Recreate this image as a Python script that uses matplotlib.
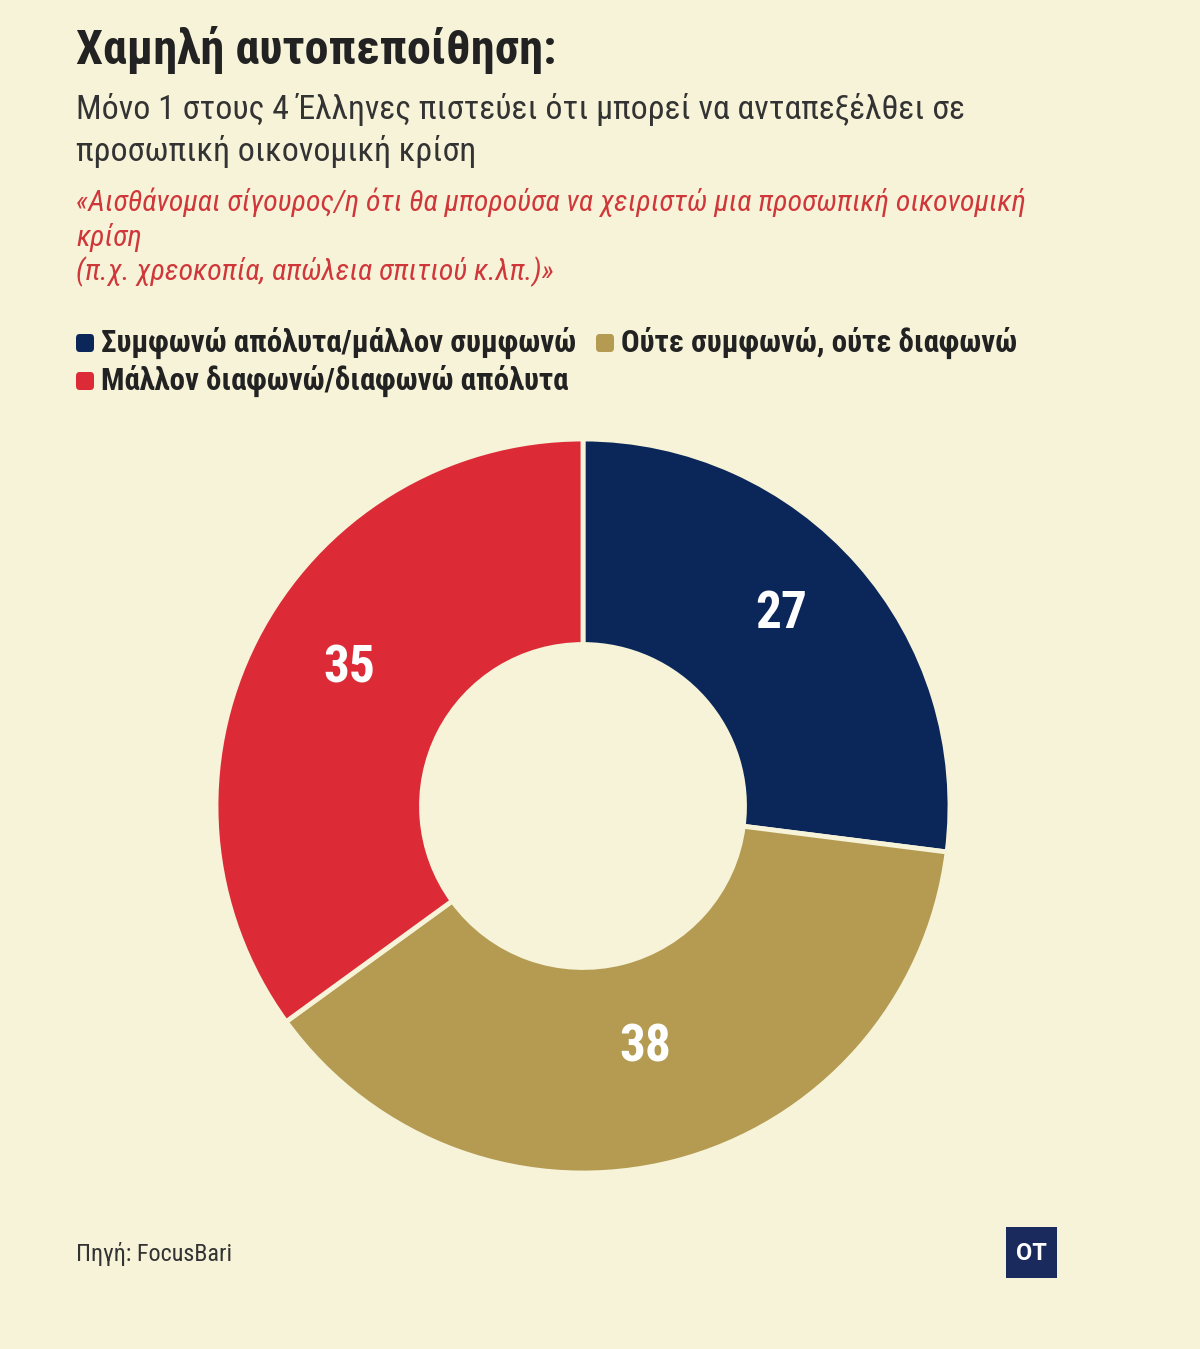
import numpy as np
import matplotlib
matplotlib.use("Agg")
import matplotlib.pyplot as plt
from matplotlib import font_manager
from matplotlib.patches import FancyBboxPatch

categories = ["Συμφωνώ απόλυτα/μάλλον συμφωνώ",
              "Ούτε συμφωνώ, ούτε διαφωνώ",
              "Μάλλον διαφωνώ/διαφωνώ απόλυτα"]
values = [27, 38, 35]
colors = ["#0B2659", "#B49B51", "#DC2B36"]

title = "Χαμηλή αυτοπεποίθηση:"
subtitle = "Μόνο 1 στους 4 Έλληνες πιστεύει ότι μπορεί να ανταπεξέλθει σε\nπροσωπική οικονομική κρίση"
quote_lines = ["«Αισθάνομαι σίγουρος/η ότι θα μπορούσα να χειριστώ μια προσωπική οικονομική",
               "κρίση",
               "(π.χ. χρεοκοπία, απώλεια σπιτιού κ.λπ.)»"]
source = "Πηγή: FocusBari"

BG = "#F6F3D8"
W, H = 1200, 1349

names = {f.name for f in font_manager.fontManager.ttflist}
cond = None
for n in ["Roboto Condensed", "Liberation Sans Narrow", "Open Sans Condensed"]:
    if n in names:
        cond = n
        break
if cond is None:
    cond = "Roboto"
FAM = [cond, "Roboto", "DejaVu Sans"]

fig = plt.figure(figsize=(W / 100, H / 100), dpi=100, facecolor=BG)

def fx(x):
    return x / W

def fy(y):
    return 1 - y / H

# Title & subtitle
fig.text(fx(76), fy(50), title, family=FAM, fontweight="bold", fontsize=34.7,
         color="#222222", va="center", ha="left")
fig.text(fx(76), fy(110), subtitle.split("\n")[0], family=FAM, fontsize=24.4,
         color="#333333", va="center", ha="left")
fig.text(fx(76), fy(152), subtitle.split("\n")[1], family=FAM, fontsize=24.4,
         color="#333333", va="center", ha="left")
for i, ln in enumerate(quote_lines):
    fig.text(fx(76), fy(202 + 35 * i), ln, family=FAM, fontsize=21.4, style="italic",
             color="#D0373A", va="center", ha="left")

# Legend
leg_pos = [(76, 343), (596, 343), (76, 381)]
for (x, y), lab, c in zip(leg_pos, categories, colors):
    sq = FancyBboxPatch((fx(x), fy(y) - 9 / H), 18 / W, 18 / H,
                        boxstyle="round,pad=0,rounding_size=0.003",
                        transform=fig.transFigure, facecolor=c, edgecolor="none")
    fig.patches.append(sq)
    fig.text(fx(x + 25), fy(y), lab, family=FAM, fontweight="bold", fontsize=22.3,
             color="#222222", va="center", ha="left")

# Donut
cx, cy, R = 583, 806, 367
ax = fig.add_axes([fx(cx - R), fy(cy + R), 2 * R / W, 2 * R / H])
ax.set_facecolor(BG)
wedges, _ = ax.pie(values, colors=colors, startangle=90, counterclock=False,
                   radius=1.0,
                   wedgeprops=dict(width=0.56, edgecolor=BG, linewidth=3.5,
                                   joinstyle="round"))
for w in wedges:
    w.set_clip_on(False)
ax.set_xlim(-1.0, 1.0)
ax.set_ylim(-1.0, 1.0)
ax.set_aspect("equal")
ax.axis("off")

label_r = [0.72, 0.68, 0.715]
label_dy = [0.047, 0.0, 0.05]
for w, v, r, dy in zip(wedges, values, label_r, label_dy):
    ang = np.deg2rad((w.theta1 + w.theta2) / 2)
    ax.text(r * np.cos(ang), r * np.sin(ang) + dy, str(v), family=FAM,
            fontweight="bold", fontsize=37, color="white", ha="center", va="center")

# Source
fig.text(fx(76), fy(1254), source, family=FAM, fontsize=17.4, color="#333333",
         va="center", ha="left")

# OT logo
logo = FancyBboxPatch((fx(1006), fy(1278)), 51 / W, 51 / H, boxstyle="square,pad=0",
                      transform=fig.transFigure, facecolor="#1B2A5C", edgecolor="none")
fig.patches.append(logo)
fig.text(fx(1031.5), fy(1253), "OT", family=["Roboto", "DejaVu Sans"], fontweight="bold",
         fontsize=17, color="white", ha="center", va="center")

fig.savefig("out.png", dpi=100, facecolor=BG)
